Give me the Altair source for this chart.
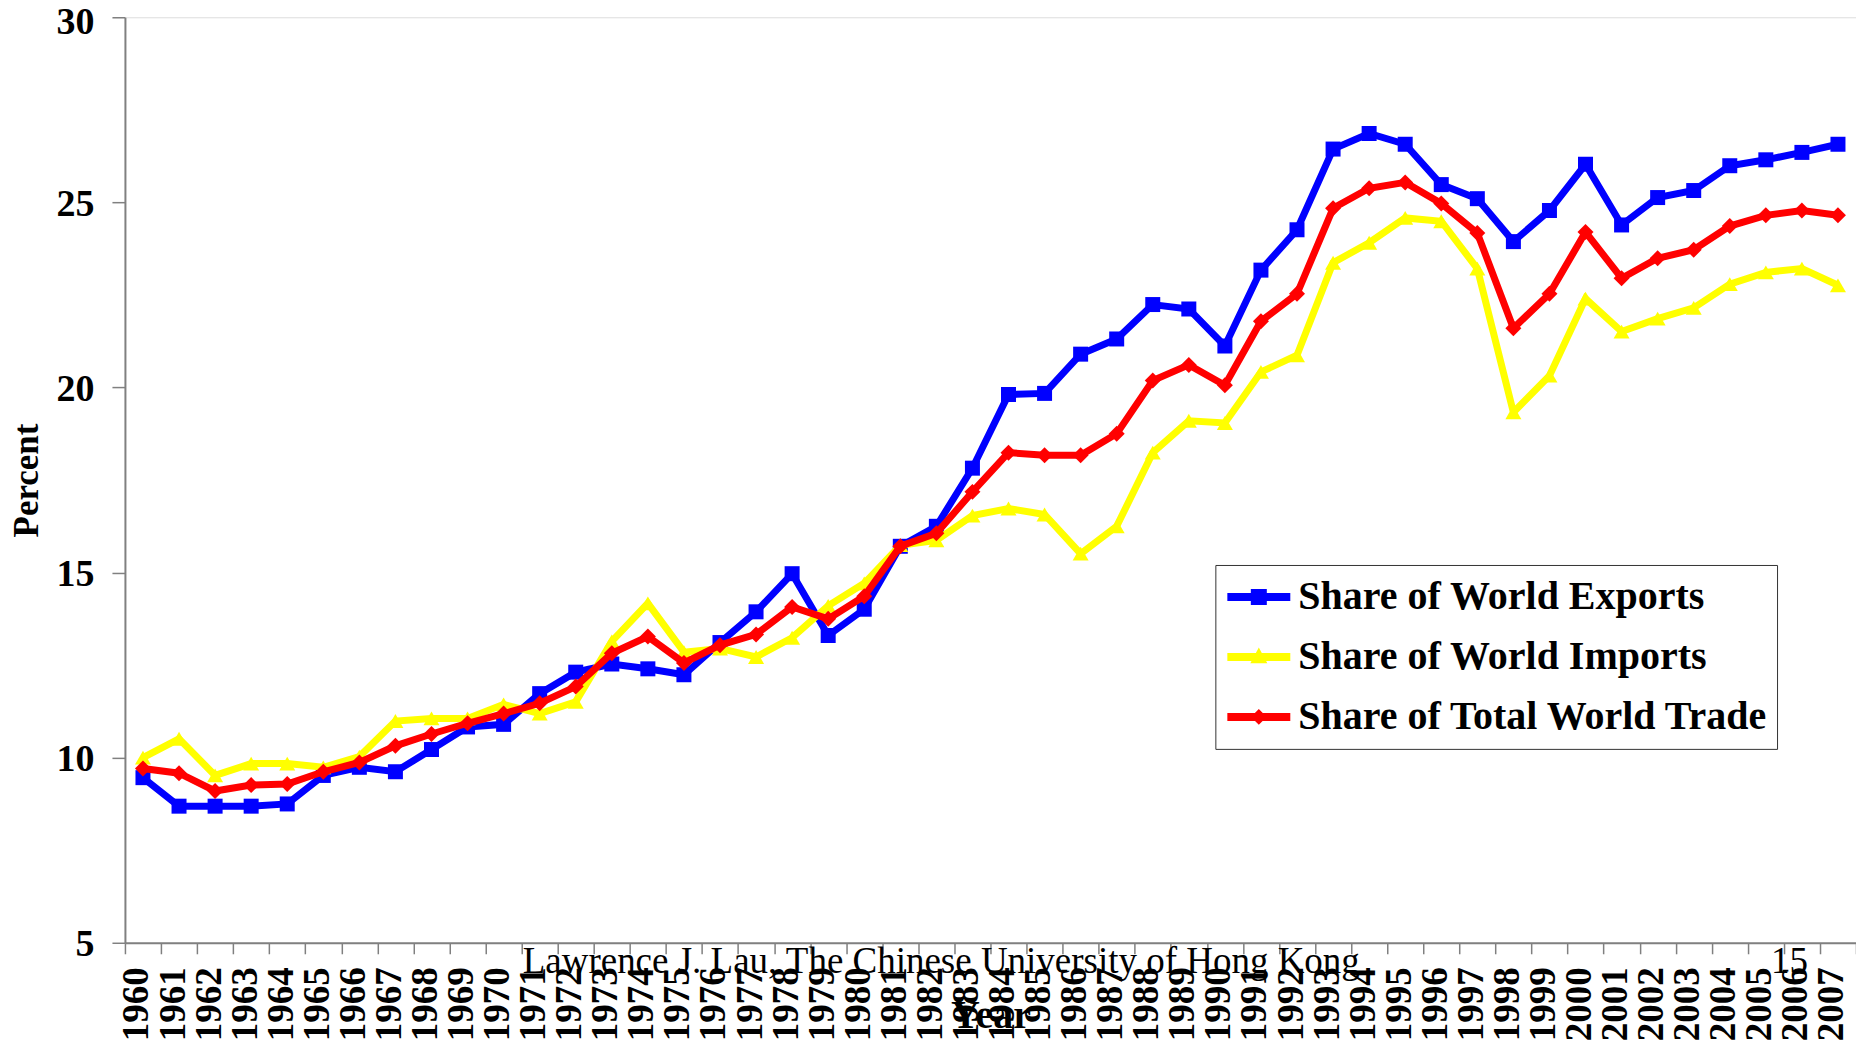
import altair as alt
import pandas as pd

years = list(range(1960, 2008))
exports = [9.46, 8.69, 8.69, 8.69, 8.75, 9.52, 9.74, 9.62, 10.22, 10.83, 10.90, 11.73,
           12.31, 12.53, 12.40, 12.24, 13.11, 13.94, 14.97, 13.30, 14.01, 15.71, 16.25,
           17.82, 19.81, 19.84, 20.90, 21.31, 22.24, 22.12, 21.12, 23.17, 24.26, 26.44,
           26.86, 26.57, 25.48, 25.10, 23.94, 24.78, 26.03, 24.39, 25.13, 25.32, 25.99,
           26.15, 26.35, 26.57]
imports = [10.00, 10.51, 9.52, 9.84, 9.84, 9.74, 10.03, 10.99, 11.06, 11.06, 11.44, 11.19,
           11.51, 13.14, 14.17, 12.85, 12.95, 12.72, 13.24, 14.10, 14.71, 15.74, 15.87,
           16.54, 16.73, 16.57, 15.51, 16.25, 18.24, 19.10, 19.04, 20.42, 20.87, 23.37,
           23.91, 24.58, 24.49, 23.21, 19.33, 20.32, 22.40, 21.51, 21.86, 22.15, 22.79,
           23.11, 23.21, 22.76]
total = [9.71, 9.58, 9.10, 9.26, 9.29, 9.62, 9.87, 10.32, 10.64, 10.93, 11.19, 11.47,
         11.92, 12.82, 13.27, 12.56, 13.04, 13.33, 14.07, 13.75, 14.36, 15.71, 16.06,
         17.18, 18.24, 18.17, 18.17, 18.75, 20.19, 20.61, 20.06, 21.79, 22.53, 24.84,
         25.38, 25.54, 24.97, 24.17, 21.60, 22.53, 24.20, 22.95, 23.49, 23.72, 24.36,
         24.65, 24.78, 24.65]

series_names = ["Share of World Exports", "Share of World Imports", "Share of Total World Trade"]
series_colors = ["#0000FF", "#FFFF00", "#FF0000"]
series_shapes = ["square", "triangle-up", "diamond"]
series_sizes = [225, 256, 256]
y_ticks = [5, 10, 15, 20, 25, 30]
footer_text = "Lawrence J. Lau, The Chinese University of Hong Kong"
page_text = "15"

legend_paths = [
    "M-1,-0.127H1V0.127H-1Z M-0.254,-0.254H0.254V0.254H-0.254Z",
    "M-1,-0.127H1V0.127H-1Z M0,-0.3L0.27,0.2H-0.27Z",
    "M-1,-0.127H1V0.127H-1Z M0,-0.25L0.25,0L0,0.25L-0.25,0Z",
]

rows = []
for name, vals in zip(series_names, [exports, imports, total]):
    for yr, v in zip(years, vals):
        rows.append({"Year": str(yr), "Series": name, "Percent": v})
df = pd.DataFrame(rows)

FONT = "Liberation Serif"
W, H = 1732, 926

x_enc = alt.X(
    "Year:O",
    sort=[str(y) for y in years],
    scale=alt.Scale(type="band", paddingInner=0, paddingOuter=0),
    axis=alt.Axis(
        title="Year", titleFont=FONT, titleFontSize=40, titleFontWeight="bold",
        titleX=W / 2, titleY=85, titleBaseline="alphabetic", titleAlign="center",
        labelAngle=270, labelAlign="right", labelBaseline="middle",
        labelFont=FONT, labelFontSize=37, labelFontWeight="bold", labelColor="black",
        labelPadding=13, labelOffset=-6, labelOverlap=False, labelFlush=False,
        tickBand="extent", tickSize=11, tickColor="#808080", tickWidth=1.5,
        domainColor="#808080", domainWidth=2, grid=False,
    ),
)
y_enc = alt.Y(
    "Percent:Q",
    scale=alt.Scale(domain=[5, 30], nice=False, zero=False),
    axis=alt.Axis(
        values=y_ticks, title="Percent", titleFont=FONT, titleFontSize=35,
        titleFontWeight="bold", titleAngle=270, titleX=-98, titleY=H / 2,
        titleAlign="center", titleBaseline="middle",
        labelFont=FONT, labelFontSize=38, labelFontWeight="bold", labelColor="black",
        labelPadding=18,
        labelOffset={"condition": {"test": "datum.value === 30", "value": 5}, "value": 2},
        tickSize=13, tickColor="#808080", tickWidth=1.5,
        domainColor="#808080", domainWidth=2, grid=False,
    ),
)

layers = []
for name, color, shape, size in zip(series_names, series_colors, series_shapes, series_sizes):
    base = alt.Chart(df).transform_filter(alt.datum.Series == name)
    layers.append(base.mark_line(color=color, strokeWidth=7).encode(x=x_enc, y=y_enc))
    layers.append(
        base.mark_point(shape=shape, filled=True, color=color, size=size, opacity=1)
        .encode(x=x_enc, y=y_enc)
    )

legend_kw = dict(
    title=None, orient="none", legendX=1091, legendY=548,
    labelFont=FONT, labelFontSize=40, labelFontWeight="bold", labelColor="black",
    labelLimit=1000, labelOffset=8, symbolSize=3969, symbolStrokeWidth=0,
    symbolOffset=4, clipHeight=48, rowPadding=12, padding=8,
    strokeColor="#333333", fillColor="white",
)
legend_layer = (
    alt.Chart(df)
    .transform_filter("false")
    .mark_point(filled=True, opacity=1)
    .encode(
        x=x_enc, y=y_enc,
        color=alt.Color("Series:N", scale=alt.Scale(domain=series_names, range=series_colors),
                        legend=alt.Legend(**legend_kw)),
        shape=alt.Shape("Series:N", scale=alt.Scale(domain=series_names, range=legend_paths),
                        legend=alt.Legend(**legend_kw)),
    )
)
layers.append(legend_layer)

footer = alt.Chart(pd.DataFrame({"t": [footer_text]})).mark_text(
    font=FONT, fontSize=37, align="left", baseline="alphabetic", color="black"
).encode(text="t:N", x=alt.value(398), y=alt.value(956))
page = alt.Chart(pd.DataFrame({"t": [page_text]})).mark_text(
    font=FONT, fontSize=37, align="left", baseline="alphabetic", color="black"
).encode(text="t:N", x=alt.value(1647), y=alt.value(956))
layers += [footer, page]

chart = (
    alt.layer(*layers)
    .properties(
        width=W, height=H,
        padding={"left": 117, "top": 9, "right": 0, "bottom": 100},
        autosize=alt.AutoSizeParams(type="none"),
    )
    .configure_view(stroke="transparent")
    .configure(background="white")
)

chart.save("out.html", embed_options={"renderer": "svg", "actions": False})
